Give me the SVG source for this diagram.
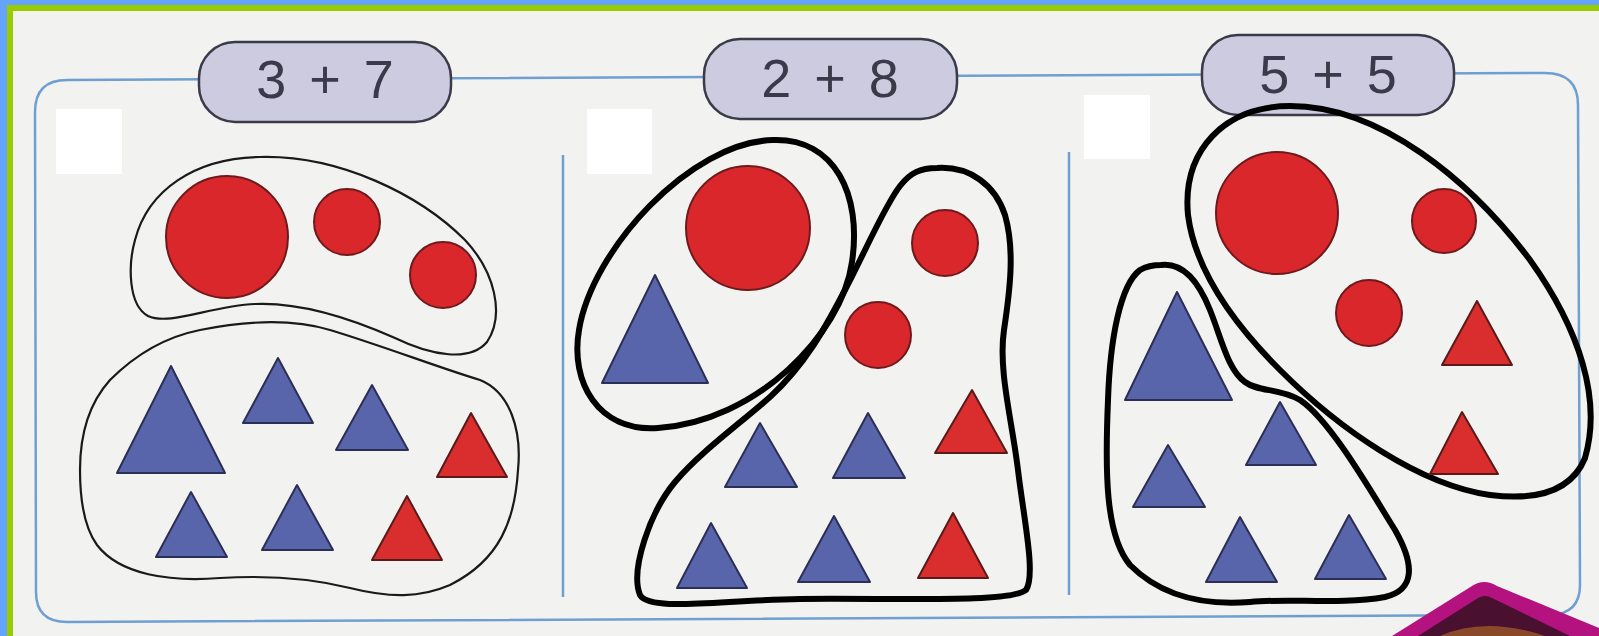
<svg xmlns="http://www.w3.org/2000/svg" width="1599" height="636" viewBox="0 0 1599 636">
<style>
.bg{fill:#f2f2f1}
.panel{fill:none;stroke:#6f9fd0;stroke-width:2.5}
.div{stroke:#6f9fd0;stroke-width:2.5}
.pill{fill:#cccbe0;stroke:#3a3a48;stroke-width:2.5}
.lbl{font-family:"Liberation Sans",Arial,sans-serif;font-size:54px;fill:#3a3a4a;text-anchor:middle;letter-spacing:4px}
.mask{fill:#ffffff}
.rc{fill:#d9272b;stroke:#6e1a1c;stroke-width:2}
.bt{fill:#5865aa;stroke:#2c2f55;stroke-width:2;stroke-linejoin:round}
.rt{fill:#da2e2e;stroke:#5a1a1a;stroke-width:2;stroke-linejoin:round}
.thin{fill:none;stroke:#1a1a1a;stroke-width:2.2}
.thick{fill:none;stroke:#000;stroke-width:6}
</style>
<rect class="bg" x="0" y="0" width="1599" height="636"/>
<!-- frame -->
<rect x="0" y="0" width="1599" height="5" fill="#66a3ff"/>
<rect x="0" y="5" width="1599" height="6" fill="#99cc00"/>
<rect x="0" y="0" width="7" height="636" fill="#66a3ff"/>
<rect x="7" y="5" width="6" height="631" fill="#99cc00"/>
<!-- panel outline -->
<path class="panel" d="M35,112 Q35,80 67,80 L1545,73 Q1578,73 1578,105 L1580,585 Q1580,614 1550,615 L67,622 Q36,622 36,592 Z"/>
<line class="div" x1="563" y1="155" x2="563" y2="597"/>
<line class="div" x1="1069" y1="152" x2="1069" y2="595"/>
<!-- labels -->
<g id="label1">
<rect class="pill" x="199" y="42" width="252" height="80" rx="36"/>
<text class="lbl" x="327" y="98">3 + 7</text>
</g>
<g id="label2">
<rect class="pill" x="704" y="39" width="253" height="80" rx="36"/>
<text class="lbl" x="832" y="97">2 + 8</text>
</g>
<g id="label3">
<rect class="pill" x="1202" y="35" width="252" height="80" rx="36"/>
<text class="lbl" x="1330" y="93">5 + 5</text>
</g>
<!-- white boxes -->
<rect class="mask" x="56" y="109" width="66" height="65"/>
<rect class="mask" x="587" y="109" width="65" height="65"/>
<rect class="mask" x="1084" y="95" width="66" height="64"/>
<!-- panel 1 -->
<g id="panel1">
<path class="thin" d="M260,157 C340,155 420,195 465,240 C495,272 505,315 487,342 C470,362 432,356 395,338 C350,318 300,302 255,304 C210,306 170,326 148,316 C128,305 128,265 135,240 C148,190 195,158 260,157 Z"/>
<path class="thin" d="M80,470 C80,430 92,400 110,380 C135,355 165,337 200,330 C240,322 290,318 330,330 C380,345 440,368 480,380 C510,392 522,430 518,470 C515,520 500,560 450,585 C420,598 390,598 350,588 C310,578 270,575 220,578 C170,582 120,575 97,545 C84,527 80,500 80,470 Z"/>
<circle class="rc" cx="227" cy="237" r="61"/>
<circle class="rc" cx="347" cy="222" r="33"/>
<circle class="rc" cx="443" cy="275" r="33"/>
<polygon class="bt" points="171,366 117,473 225,473"/>
<polygon class="bt" points="278,358 243,423 313,423"/>
<polygon class="bt" points="372,385 336,450 408,450"/>
<polygon class="rt" points="471,413 437,477 507,477"/>
<polygon class="bt" points="191,492 156,557 227,557"/>
<polygon class="bt" points="297,485 262,550 333,550"/>
<polygon class="rt" points="407,496 372,560 442,560"/>
</g>
<!-- panel 2 -->
<g id="panel2">
<path class="thick" d="M773,140 C835,138 862,195 852,262 C842,335 755,422 658,428 C598,432 570,382 579,330 C592,250 690,142 773,140 Z"/>
<path class="thick" d="M937,168 C970,166 995,185 1005,215 C1015,250 1010,290 1004,330 C998,370 1012,420 1018,470 C1024,520 1036,575 1026,590 C1010,603 900,598 800,599 C720,600 650,612 640,595 C630,570 650,512 675,482 C700,452 742,422 770,397 C808,362 828,322 845,290 C865,252 885,205 900,186 C910,173 920,168 937,168 Z"/>
<circle class="rc" cx="748" cy="228" r="62"/>
<circle class="rc" cx="945" cy="243" r="33"/>
<circle class="rc" cx="878" cy="335" r="33"/>
<polygon class="bt" points="655,275 602,383 708,383"/>
<polygon class="bt" points="760,423 725,487 797,487"/>
<polygon class="bt" points="868,413 833,478 905,478"/>
<polygon class="rt" points="972,390 935,453 1007,453"/>
<polygon class="bt" points="711,523 677,588 747,588"/>
<polygon class="bt" points="834,516 798,582 870,582"/>
<polygon class="rt" points="953,513 918,578 988,578"/>
</g>
<!-- panel 3 -->
<g id="panel3">
<path class="thick" d="M1290,106 C1380,106 1470,180 1530,260 C1580,330 1602,400 1585,458 C1570,495 1530,500 1490,495 C1420,485 1340,430 1280,370 C1235,325 1195,270 1188,215 C1182,150 1225,106 1290,106 Z"/>
<path class="thick" d="M1161,265 C1185,262 1200,285 1210,310 C1222,340 1228,370 1245,382 C1258,392 1280,388 1300,400 C1330,420 1370,490 1395,530 C1415,565 1415,590 1385,597 C1340,605 1290,598 1250,602 C1200,606 1160,595 1130,565 C1105,535 1105,470 1108,400 C1110,340 1120,285 1140,270 C1147,266 1154,265 1161,265 Z"/>
<circle class="rc" cx="1277" cy="213" r="61"/>
<circle class="rc" cx="1444" cy="221" r="32"/>
<circle class="rc" cx="1369" cy="313" r="33"/>
<polygon class="rt" points="1477,301 1442,365 1512,365"/>
<polygon class="rt" points="1462,412 1430,474 1498,474"/>
<polygon class="bt" points="1177,292 1125,400 1232,400"/>
<polygon class="bt" points="1280,402 1246,465 1316,465"/>
<polygon class="bt" points="1168,445 1133,507 1205,507"/>
<polygon class="bt" points="1240,517 1206,582 1277,582"/>
<polygon class="bt" points="1349,515 1315,579 1386,579"/>
</g>
<!-- corner figure -->
<g id="hat">
<path d="M1392,636 L1472,586 Q1484,578 1497,586 L1599,628 L1599,636 Z" fill="#b3127f"/>
<path d="M1418,636 L1478,598 Q1485,594 1492,598 L1570,636 Z" fill="#4a1030"/>
<path d="M1440,636 Q1485,616 1545,636 Z" fill="#8a4a2a"/>
</g>
</svg>
